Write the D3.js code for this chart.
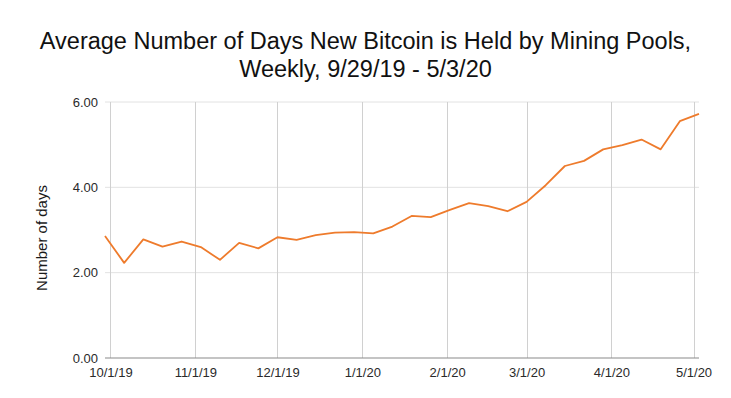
<!DOCTYPE html>
<html>
<head>
<meta charset="utf-8">
<script src="https://cdn.jsdelivr.net/npm/d3@7"></script>
<style>
  body { margin: 0; background: #fff; }
  svg { display: block; font-family: 'Liberation Sans', Arial, sans-serif; }
</style>
</head>
<body>
<div id="chart"></div>
<script>
// weekly data, 9/29/19 - 5/3/20
const weeks = [
  '2019-09-29', '2019-10-06', '2019-10-13', '2019-10-20', '2019-10-27',
  '2019-11-03', '2019-11-10', '2019-11-17', '2019-11-24', '2019-12-01',
  '2019-12-08', '2019-12-15', '2019-12-22', '2019-12-29', '2020-01-05',
  '2020-01-12', '2020-01-19', '2020-01-26', '2020-02-02', '2020-02-09',
  '2020-02-16', '2020-02-23', '2020-03-01', '2020-03-08', '2020-03-15',
  '2020-03-22', '2020-03-29', '2020-04-05', '2020-04-12', '2020-04-19',
  '2020-04-26', '2020-05-03'
]
const days = [
  2.86, 2.23, 2.78, 2.61, 2.73, 2.60, 2.30, 2.70, 2.57, 2.83,
  2.77, 2.88, 2.94, 2.95, 2.92, 3.08, 3.33, 3.30, 3.47, 3.63,
  3.56, 3.44, 3.66, 4.05, 4.50, 4.62, 4.89, 4.99, 5.12, 4.89,
  5.55, 5.72
]
const xTicks = ['2019-10-01', '2019-11-01', '2019-12-01', '2020-01-01',
  '2020-02-01', '2020-03-01', '2020-04-01', '2020-05-01']
const yTicks = [0, 2, 4, 6]
const titleLines = [
  'Average Number of Days New Bitcoin is Held by Mining Pools,',
  'Weekly, 9/29/19 - 5/3/20'
]

const W = 731
const H = 398
const margin = { top: 102, left: 105, right: 32, bottom: 40 }
const width = W - margin.left - margin.right
const height = H - margin.top - margin.bottom

const parse = d3.utcParse('%Y-%m-%d')
const data = weeks.map((w, i) => ({ date: parse(w), value: days[i] }))

const svg = d3.select('#chart')
  .append('svg')
  .attr('width', W)
  .attr('height', H)

const g = svg.append('g')
  .attr('transform', 'translate(' + margin.left + ',' + margin.top + ')')

const x = d3.scaleUtc()
  .domain(d3.extent(data, d => d.date))
  .range([0, width])
const y = d3.scaleLinear()
  .domain([0, 6])
  .range([height, 0])

// horizontal grid
g.append('g')
  .selectAll('line')
  .data(yTicks.filter(d => d > 0))
  .enter()
  .append('line')
  .attr('x1', 0)
  .attr('x2', width)
  .attr('y1', d => y(d))
  .attr('y2', d => y(d))
  .attr('stroke', '#e2e2e2')
  .attr('stroke-width', 1)

// vertical grid at month starts
g.append('g')
  .selectAll('line')
  .data(xTicks.map(parse))
  .enter()
  .append('line')
  .attr('x1', d => Math.round(x(d)) + 0.5)
  .attr('x2', d => Math.round(x(d)) + 0.5)
  .attr('y1', 0)
  .attr('y2', height)
  .attr('stroke', '#d0d0d0')
  .attr('stroke-width', 1)

// baseline
g.append('line')
  .attr('x1', 0)
  .attr('x2', width)
  .attr('y1', y(0))
  .attr('y2', y(0))
  .attr('stroke', '#8a8a8a')
  .attr('stroke-width', 1.2)

// y axis labels
const yAxis = d3.axisLeft(y)
  .tickValues(yTicks)
  .tickFormat(d3.format('.2f'))
  .tickSize(0)
  .tickPadding(7)
g.append('g')
  .attr('class', 'axis y-axis')
  .call(yAxis)
  .call(s => s.select('.domain').remove())
  .selectAll('text')
  .attr('font-size', 13)
  .attr('font-family', "'Liberation Sans', Arial, sans-serif")
  .attr('fill', '#2a2a2a')

// x axis labels
const xAxis = d3.axisBottom(x)
  .tickValues(xTicks.map(parse))
  .tickFormat(d3.utcFormat('%-m/%-d/%y'))
  .tickSize(0)
  .tickPadding(10)
g.append('g')
  .attr('class', 'axis x-axis')
  .attr('transform', 'translate(0,' + height + ')')
  .call(xAxis)
  .call(s => s.select('.domain').remove())
  .selectAll('text')
  .attr('font-size', 13)
  .attr('font-family', "'Liberation Sans', Arial, sans-serif")
  .attr('fill', '#2a2a2a')

// the line
const line = d3.line()
  .x(d => x(d.date))
  .y(d => y(d.value))
g.append('path')
  .datum(data)
  .attr('fill', 'none')
  .attr('stroke', '#ee7b2c')
  .attr('stroke-width', 1.8)
  .attr('stroke-linejoin', 'round')
  .attr('d', line)

// y axis title
svg.append('text')
  .attr('transform', 'translate(47,' + 238 + ') rotate(-90)')
  .attr('text-anchor', 'middle')
  .attr('font-size', 15)
  .attr('fill', '#1a1a1a')
  .text('Number of days')

// chart title
svg.append('g')
  .selectAll('text')
  .data(titleLines)
  .enter()
  .append('text')
  .attr('x', W / 2)
  .attr('y', (d, i) => 49 + i * 28)
  .attr('text-anchor', 'middle')
  .attr('font-size', 23.5)
  .attr('fill', '#111')
  .text(d => d)
</script>
</body>
</html>
